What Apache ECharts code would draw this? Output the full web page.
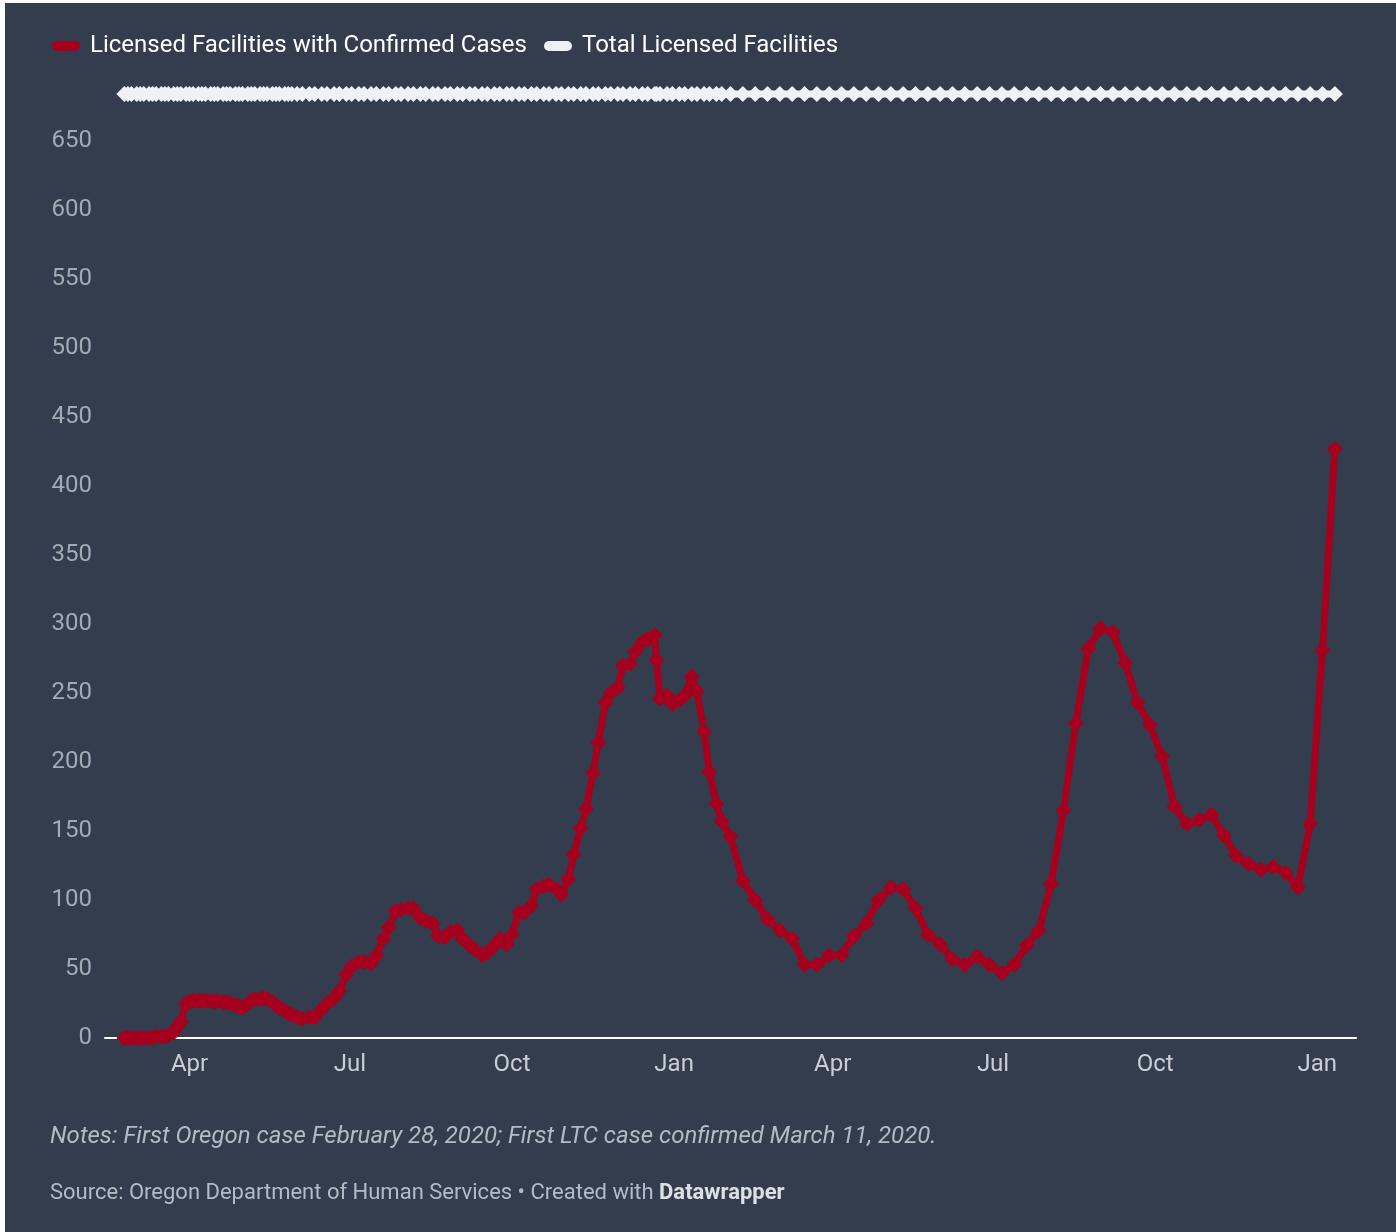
<!DOCTYPE html>
<html>
<head>
<meta charset="utf-8">
<script src="https://cdn.jsdelivr.net/npm/echarts@6/dist/echarts.min.js"></script>
<style>
  html, body { margin: 0; padding: 0; background: #ffffff; }
  #chart { position: absolute; left: 5px; top: 3px; width: 1391px; height: 1229px; }
</style>
</head>
<body>
<div id="chart"></div>
<script>
// report dates (2020: Mon/Wed/Fri, then Mon/Thu, then weekly)
var dates = [
  '2020-02-24','2020-02-26','2020-02-28','2020-03-02','2020-03-04','2020-03-06','2020-03-09','2020-03-11','2020-03-13','2020-03-16',
  '2020-03-18','2020-03-20','2020-03-23','2020-03-25','2020-03-27','2020-03-30','2020-04-01','2020-04-03','2020-04-06','2020-04-08',
  '2020-04-10','2020-04-13','2020-04-15','2020-04-17','2020-04-20','2020-04-22','2020-04-24','2020-04-27','2020-04-29','2020-05-01',
  '2020-05-04','2020-05-06','2020-05-08','2020-05-11','2020-05-13','2020-05-15','2020-05-18','2020-05-20','2020-05-22','2020-05-25',
  '2020-05-27','2020-05-29',
  '2020-06-01','2020-06-04','2020-06-08','2020-06-11','2020-06-15','2020-06-18','2020-06-22','2020-06-25','2020-06-29',
  '2020-07-02','2020-07-06','2020-07-09','2020-07-13','2020-07-16','2020-07-20','2020-07-23','2020-07-27','2020-07-30',
  '2020-08-03','2020-08-06','2020-08-10','2020-08-13','2020-08-17','2020-08-20','2020-08-24','2020-08-27','2020-08-31',
  '2020-09-03','2020-09-07','2020-09-10','2020-09-14','2020-09-17','2020-09-21','2020-09-24','2020-09-28',
  '2020-10-01','2020-10-05','2020-10-08','2020-10-12','2020-10-15','2020-10-19','2020-10-22','2020-10-26','2020-10-29',
  '2020-11-02','2020-11-05','2020-11-09','2020-11-12','2020-11-16','2020-11-19','2020-11-23','2020-11-26','2020-11-30',
  '2020-12-03','2020-12-07','2020-12-10','2020-12-14','2020-12-17','2020-12-21','2020-12-22','2020-12-24','2020-12-28','2020-12-31',
  '2021-01-04','2021-01-07','2021-01-11','2021-01-14','2021-01-18','2021-01-21','2021-01-25','2021-01-28',
  '2021-02-02','2021-02-09','2021-02-16','2021-02-23','2021-03-02','2021-03-09','2021-03-16','2021-03-23','2021-03-30',
  '2021-04-06','2021-04-13','2021-04-20','2021-04-27','2021-05-04','2021-05-11','2021-05-18','2021-05-25',
  '2021-06-01','2021-06-08','2021-06-15','2021-06-22','2021-06-29','2021-07-06','2021-07-13','2021-07-20','2021-07-27',
  '2021-08-03','2021-08-10','2021-08-17','2021-08-24','2021-08-31','2021-09-07','2021-09-14','2021-09-21','2021-09-28',
  '2021-10-05','2021-10-12','2021-10-19','2021-10-26','2021-11-02','2021-11-09','2021-11-16','2021-11-23','2021-11-30',
  '2021-12-07','2021-12-14','2021-12-21','2021-12-28','2022-01-04','2022-01-11'
];

var withCases = [
  0,0,0,0,0,0,0,0,1,1,
  1,2,4,8,12,25,26,27,27,27,
  27,27,26,27,26,26,25,24,23,22,
  25,27,28,28,29,28,26,24,22,20,
  18,17,
  15,14,15,15,21,25,29,34,46,
  52,55,55,54,60,72,80,92,93,
  94,94,87,85,83,74,73,77,78,
  72,67,64,60,62,67,72,68,
  75,91,91,96,108,110,111,108,104,
  115,133,152,166,192,214,243,250,254,
  270,271,280,287,289,292,274,246,248,242,
  245,248,262,251,222,193,170,157,
  146,114,100,86,78,72,53,53,60,
  60,74,83,100,109,108,94,75,
  68,57,53,59,53,47,53,67,78,
  112,165,228,282,297,294,272,243,227,
  204,168,155,158,162,147,132,126,122,
  124,120,109,155,281,427
];

var totalFacilities = [
  684,684,684,684,684,684,684,684,684,684,
  684,684,684,684,684,684,684,684,684,684,
  684,684,684,684,684,684,684,684,684,684,
  684,684,684,684,684,684,684,684,684,684,
  684,684,
  684,684,684,684,684,684,684,684,684,
  684,684,684,684,684,684,684,684,684,
  684,684,684,684,684,684,684,684,684,
  684,684,684,684,684,684,684,684,
  684,684,684,684,684,684,684,684,684,
  684,684,684,684,684,684,684,684,684,
  684,684,684,684,684,684,684,684,684,684,
  684,684,684,684,684,684,684,684,
  684,684,684,684,684,684,684,684,684,
  684,684,684,684,684,684,684,684,
  684,684,684,684,684,684,684,684,684,
  684,684,684,684,684,684,684,684,684,
  684,684,684,684,684,684,684,684,684,
  684,684,684,684,684,684
];

var xTicks = ['2020-04-01','2020-07-01','2020-10-01','2021-01-01','2021-04-01','2021-07-01','2021-10-01','2022-01-01'];
var xTickLabels = ['Apr','Jul','Oct','Jan','Apr','Jul','Oct','Jan'];
var xRange = ['2020-02-13', '2022-01-23'];
var seriesNames = ['Licensed Facilities with Confirmed Cases', 'Total Licensed Facilities'];

function toTime(d) { return new Date(d + 'T00:00:00Z').getTime(); }
var tickTimes = xTicks.map(toTime);

var chart = echarts.init(document.getElementById('chart'));

var font = 'Roboto, "Noto Sans", sans-serif';
// pill shaped legend key
var pill = 'path://M5,0 L23,0 A5,5 0 0 1 23,10 L5,10 A5,5 0 0 1 5,0 Z';

var option = {
  backgroundColor: '#333d4d',
  animation: false,
  textStyle: { fontFamily: font },
  title: [{
    text: 'Notes: First Oregon case February 28, 2020; First LTC case confirmed March 11, 2020.',
    left: 40,
    top: 1117,
    textStyle: { color: '#b4bbc4', fontSize: 24, fontStyle: 'italic', fontWeight: 'normal', fontFamily: font }
  }, {
    text: 'Source: Oregon Department of Human Services • Created with {b|Datawrapper}',
    left: 40,
    top: 1174,
    textStyle: {
      color: '#b4bbc4', fontSize: 22, fontWeight: 'normal', fontFamily: font,
      rich: { b: { fontWeight: 'bold', color: '#dde0e4', fontSize: 22, fontFamily: font } }
    }
  }],
  legend: {
    left: 42,
    top: 26,
    itemGap: 17,
    itemWidth: 28,
    itemHeight: 10,
    icon: pill,
    textStyle: { color: '#ffffff', fontSize: 24, fontFamily: font, padding: [0, 0, 0, 5] },
    data: seriesNames
  },
  grid: { left: 100, right: 40, top: 69, bottom: 194 },
  xAxis: {
    type: 'value',
    min: toTime(xRange[0]),
    max: toTime(xRange[1]),
    axisLine: { lineStyle: { color: '#ffffff', width: 2 } },
    axisTick: { show: false },
    splitLine: { show: false },
    axisLabel: {
      customValues: tickTimes,
      color: '#c9ced5',
      fontSize: 24,
      margin: 15,
      formatter: function (v) {
        var i = tickTimes.indexOf(v);
        return i >= 0 ? xTickLabels[i] : '';
      }
    }
  },
  yAxis: {
    type: 'value',
    min: 0,
    max: 700,
    interval: 50,
    axisLine: { show: false },
    axisTick: { show: false },
    splitLine: { show: false },
    axisLabel: { color: '#a3aab4', fontSize: 24, margin: 13, showMaxLabel: false }
  },
  series: [{
    name: seriesNames[0],
    type: 'line',
    data: dates.map(function (d, i) { return [toTime(d), withCases[i]]; }),
    symbol: 'diamond',
    symbolSize: 16,
    color: '#a6001f',
    lineStyle: { width: 7, color: '#a6001f' },
    itemStyle: { color: '#a6001f' }
  }, {
    name: seriesNames[1],
    type: 'line',
    data: dates.map(function (d, i) { return [toTime(d), totalFacilities[i]]; }),
    symbol: 'diamond',
    symbolSize: 16,
    color: '#eef2f4',
    lineStyle: { width: 7, color: '#eef2f4' },
    itemStyle: { color: '#eef2f4' }
  }]
};

chart.setOption(option);
</script>
</body>
</html>
